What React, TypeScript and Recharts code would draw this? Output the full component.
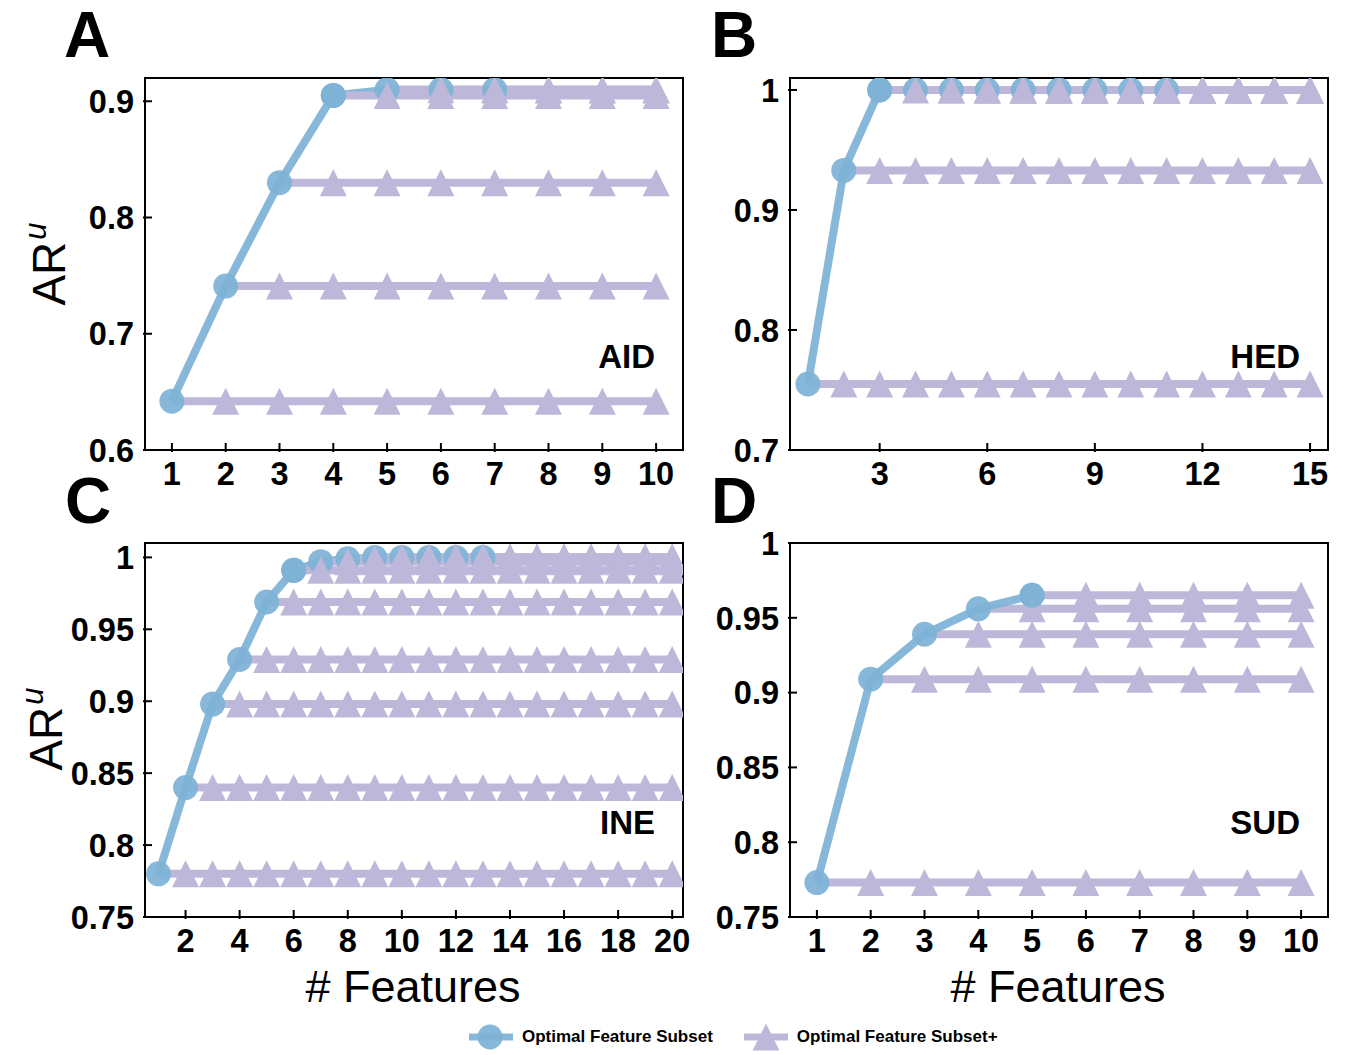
import React from 'react';
import { LineChart, Line, XAxis, YAxis, ReferenceArea } from 'recharts';

const BLUE = '#7eb2d6';
const PURPLE = '#bdb8da';
const FONT = '"Liberation Sans", Arial, Helvetica, sans-serif';

// AID panel
const aidFeatureCount = 10;
const aidOptimal = [0.642, 0.741, 0.830, 0.905, 0.910, 0.910, 0.910];
const aidXTicks = [1, 2, 3, 4, 5, 6, 7, 8, 9, 10];
const aidYTicks = [0.6, 0.7, 0.8, 0.9];

// HED panel
const hedFeatureCount = 15;
const hedOptimal = [0.755, 0.933, 1.0, 1.0, 1.0, 1.0, 1.0, 1.0, 1.0, 1.0, 1.0];
const hedXTicks = [3, 6, 9, 12, 15];
const hedYTicks = [0.7, 0.8, 0.9, 1];

// INE panel
const ineFeatureCount = 20;
const ineOptimal = [0.780, 0.840, 0.898, 0.929, 0.969, 0.991, 0.997, 0.999, 1.0, 1.0, 1.0, 1.0, 1.0];
const ineXTicks = [2, 4, 6, 8, 10, 12, 14, 16, 18, 20];
const ineYTicks = [0.75, 0.8, 0.85, 0.9, 0.95, 1];

// SUD panel
const sudFeatureCount = 10;
const sudOptimal = [0.773, 0.909, 0.939, 0.956, 0.965];
const sudXTicks = [1, 2, 3, 4, 5, 6, 7, 8, 9, 10];
const sudYTicks = [0.75, 0.8, 0.85, 0.9, 0.95, 1];

// builds one row per feature count: the optimal curve (split in a rising part and a
// flat tail) plus one "+" series per subset size, held flat to the last feature count
function buildRows(count: number, optimal: number[], flatFrom: number) {
  const rows: any[] = [];
  for (let x = 1; x <= count; x++) {
    const row: any = { x };
    if (x <= optimal.length && x <= flatFrom) row.rise = optimal[x - 1];
    if (x <= optimal.length && x >= flatFrom) row.tail = optimal[x - 1];
    optimal.forEach((v, i) => {
      if (x >= i + 1) row['p' + i] = v;
    });
    rows.push(row);
  }
  return rows;
}

const XTick = (props: any) => {
  const { x, y, payload } = props;
  return (
    <g>
      <line x1={x} x2={x} y1={y} y2={y - 9} stroke="#000" strokeWidth={2} />
      <text x={x} y={y + 33} textAnchor="middle" fontFamily={FONT} fontWeight="bold" fontSize={32.5} fill="#000">
        {payload.value}
      </text>
    </g>
  );
};

const YTick = (props: any) => {
  const { x, y, payload } = props;
  return (
    <g>
      <line x1={x} x2={x + 9} y1={y} y2={y} stroke="#000" strokeWidth={2} />
      <text x={x - 9} y={y} dy="0.36em" textAnchor="end" fontFamily={FONT} fontWeight="bold" fontSize={32.5} fill="#000">
        {payload.value}
      </text>
    </g>
  );
};

const triangleDot = (start: number) => (props: any) => {
  const { cx, cy, payload, index } = props;
  const key = `t-${start}-${index}`;
  if (payload == null || payload.x <= start || cx == null || cy == null) return <g key={key} />;
  const s = 13.5;
  return <path key={key} d={`M${cx},${cy - s} L${cx + s},${cy + s} L${cx - s},${cy + s} Z`} fill={PURPLE} />;
};

const circleDot = { r: 12.5, fill: BLUE, fillOpacity: 0.92, stroke: 'none', strokeWidth: 0 };

type PanelProps = {
  left: number;
  top: number;
  plotW: number;
  plotH: number;
  count: number;
  optimal: number[];
  flatFrom: number;
  xDomain: [number, number];
  yDomain: [number, number];
  xTicks: number[];
  yTicks: number[];
};

const Panel = ({ left, top, plotW, plotH, count, optimal, flatFrom, xDomain, yDomain, xTicks, yTicks }: PanelProps) => {
  const rows = buildRows(count, optimal, flatFrom);
  const yAxisW = 85;
  const xAxisH = 45;
  const mTop = 20;
  const mRight = 20;
  return (
    <div style={{ position: 'absolute', left: left - yAxisW, top: top - mTop }}>
      <LineChart
        width={yAxisW + plotW + mRight}
        height={mTop + plotH + xAxisH}
        data={rows}
        margin={{ top: mTop, right: mRight, left: 0, bottom: 0 }}
      >
        <XAxis
          type="number"
          dataKey="x"
          domain={xDomain}
          ticks={xTicks}
          interval={0}
          allowDataOverflow
          tickSize={0}
          axisLine={false}
          tick={<XTick />}
          height={xAxisH}
        />
        <YAxis
          type="number"
          domain={yDomain}
          ticks={yTicks}
          interval={0}
          allowDataOverflow
          tickSize={0}
          axisLine={false}
          tick={<YTick />}
          width={yAxisW}
        />
        <Line
          dataKey="tail"
          stroke={BLUE}
          strokeWidth={8}
          strokeOpacity={0.92}
          dot={circleDot}
          activeDot={false}
          isAnimationActive={false}
        />
        {optimal.map((_, i) => (
          <Line
            key={'p' + i}
            dataKey={'p' + i}
            stroke={PURPLE}
            strokeWidth={8}
            dot={triangleDot(i + 1)}
            activeDot={false}
            isAnimationActive={false}
          />
        ))}
        <Line
          dataKey="rise"
          stroke={BLUE}
          strokeWidth={8}
          strokeOpacity={0.92}
          dot={circleDot}
          activeDot={false}
          isAnimationActive={false}
        />
        <ReferenceArea
          x1={xDomain[0]}
          x2={xDomain[1]}
          y1={yDomain[0]}
          y2={yDomain[1]}
          fill="none"
          fillOpacity={0}
          stroke="#000"
          strokeWidth={2}
          ifOverflow="visible"
        />
      </LineChart>
    </div>
  );
};

const Abs = ({ x, y, children, style }: any) => (
  <div
    style={{
      position: 'absolute',
      left: x,
      top: y,
      transform: 'translate(-50%, -50%)',
      whiteSpace: 'nowrap',
      lineHeight: 1,
      ...style,
    }}
  >
    {children}
  </div>
);

const YTitle = ({ x, y }: any) => (
  <Abs x={x} y={y} style={{ transform: 'translate(-50%, -50%) rotate(-90deg)', fontSize: 46, lineHeight: 0.8 }}>
    AR<span style={{ fontStyle: 'italic', fontSize: 31, position: 'relative', top: -19, marginLeft: 2 }}>u</span>
  </Abs>
);

const DataName = ({ right, y, children }: any) => (
  <div
    style={{
      position: 'absolute',
      right: 1353 - right,
      top: y,
      transform: 'translateY(-50%)',
      fontSize: 33,
      fontWeight: 'bold',
      lineHeight: 0.8,
    }}
  >
    {children}
  </div>
);

// top is the top of the line box; the capital sits about 8px lower
const PanelLetter = ({ x, top, children }: any) => (
  <div style={{ position: 'absolute', left: x, top, fontSize: 64, fontWeight: 'bold', lineHeight: 1 }}>
    {children}
  </div>
);

export default function App() {
  return (
    <div
      style={{
        position: 'absolute',
        left: 0,
        top: 0,
        width: 1353,
        height: 1055,
        background: '#fff',
        fontFamily: FONT,
        color: '#000',
        overflow: 'hidden',
      }}
    >
      <Panel left={145} top={78} plotW={538} plotH={372} count={aidFeatureCount} optimal={aidOptimal} flatFrom={4}
        xDomain={[0.5, 10.5]} yDomain={[0.6, 0.92]} xTicks={aidXTicks} yTicks={aidYTicks} />
      <Panel left={790} top={78} plotW={538} plotH={372} count={hedFeatureCount} optimal={hedOptimal} flatFrom={3}
        xDomain={[0.5, 15.5]} yDomain={[0.7, 1.01]} xTicks={hedXTicks} yTicks={hedYTicks} />
      <Panel left={145} top={543} plotW={538} plotH={374} count={ineFeatureCount} optimal={ineOptimal} flatFrom={6}
        xDomain={[0.5, 20.4]} yDomain={[0.75, 1.01]} xTicks={ineXTicks} yTicks={ineYTicks} />
      <Panel left={790} top={543} plotW={538} plotH={374} count={sudFeatureCount} optimal={sudOptimal} flatFrom={5}
        xDomain={[0.5, 10.5]} yDomain={[0.75, 1.0]} xTicks={sudXTicks} yTicks={sudYTicks} />

      <PanelLetter x={64} top={3}>A</PanelLetter>
      <PanelLetter x={711} top={3}>B</PanelLetter>
      <PanelLetter x={65} top={469}>C</PanelLetter>
      <PanelLetter x={711} top={469}>D</PanelLetter>

      <DataName right={655} y={357}>AID</DataName>
      <DataName right={1300} y={357}>HED</DataName>
      <DataName right={655} y={823}>INE</DataName>
      <DataName right={1300} y={823}>SUD</DataName>

      <YTitle x={49} y={264} />
      <YTitle x={46} y={729} />

      <Abs x={413} y={987} style={{ fontSize: 45, lineHeight: 0.85 }}># Features</Abs>
      <Abs x={1058} y={987} style={{ fontSize: 45, lineHeight: 0.85 }}># Features</Abs>

      <div style={{ position: 'absolute', left: 469, top: 1037, transform: 'translateY(-50%)', display: 'flex', alignItems: 'center', fontSize: 17, fontWeight: 'bold' }}>
        <svg width={44} height={28}>
          <line x1={0} x2={44} y1={14} y2={14} stroke={BLUE} strokeWidth={7} strokeOpacity={0.92} />
          <circle cx={21} cy={14} r={12.5} fill={BLUE} fillOpacity={0.92} />
        </svg>
        <span style={{ marginLeft: 9 }}>Optimal Feature Subset</span>
        <svg width={44} height={28} style={{ marginLeft: 31 }}>
          <line x1={0} x2={44} y1={14} y2={14} stroke={PURPLE} strokeWidth={7} />
          <path d="M22,0.5 L35.5,27.5 L8.5,27.5 Z" fill={PURPLE} />
        </svg>
        <span style={{ marginLeft: 9 }}>Optimal Feature Subset+</span>
      </div>
    </div>
  );
}
